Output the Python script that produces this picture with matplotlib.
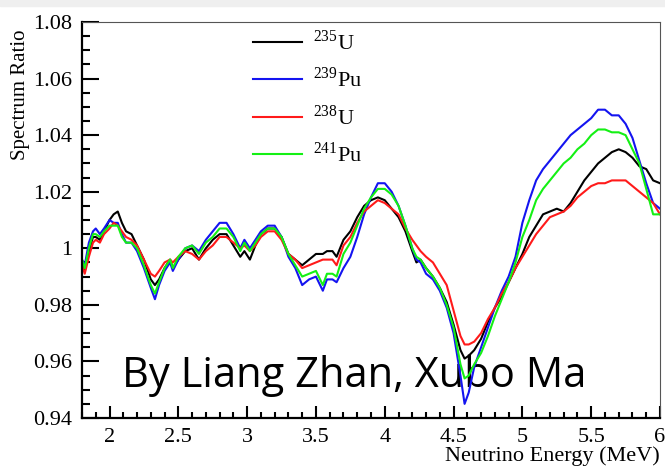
import numpy as np
import matplotlib.pyplot as plt
from matplotlib.patches import Rectangle
from matplotlib.ticker import MultipleLocator

plt.rcParams['font.family'] = ['Liberation Serif', 'DejaVu Serif']
plt.rcParams['mathtext.fontset'] = 'custom'
plt.rcParams['mathtext.rm'] = 'Liberation Serif'

# neutrino energy (MeV)
energy = [1.80, 1.82, 1.85, 1.88, 1.90, 1.93, 1.96, 2.00, 2.03, 2.06, 2.09, 2.12, 2.16, 2.20,
          2.25, 2.30, 2.33, 2.36, 2.40, 2.44, 2.46, 2.50, 2.55, 2.60, 2.65, 2.70, 2.75, 2.80,
          2.85, 2.90, 2.95, 2.98, 3.02, 3.06, 3.10, 3.15, 3.20, 3.25, 3.30, 3.35, 3.40, 3.45,
          3.50, 3.55, 3.58, 3.62, 3.65, 3.70, 3.75, 3.80, 3.85, 3.90, 3.95, 4.00, 4.05, 4.10,
          4.15, 4.20, 4.23, 4.26, 4.30, 4.35, 4.40, 4.45, 4.50, 4.55, 4.58, 4.61, 4.65, 4.70,
          4.75, 4.80, 4.85, 4.90, 4.95, 5.00, 5.05, 5.10, 5.15, 5.20, 5.25, 5.30, 5.35, 5.40,
          5.45, 5.50, 5.55, 5.60, 5.65, 5.70, 5.75, 5.80, 5.85, 5.90, 5.95, 6.00]

u235 = [0.995, 0.992, 0.999, 1.004, 1.004, 1.003, 1.006, 1.010, 1.012, 1.013, 1.009, 1.006, 1.005, 1.001,
        0.996, 0.989, 0.987, 0.989, 0.993, 0.996, 0.993, 0.996, 0.999, 1.000, 0.996, 1.000, 1.003, 1.005,
        1.005, 1.001, 0.997, 0.999, 0.996, 1.001, 1.005, 1.007, 1.007, 1.004, 0.998, 0.996, 0.994, 0.996,
        0.998, 0.998, 0.999, 0.999, 0.997, 1.003, 1.006, 1.011, 1.015, 1.017, 1.018, 1.017, 1.014, 1.011,
        1.006, 0.999, 0.995, 0.996, 0.993, 0.990, 0.986, 0.981, 0.973, 0.964, 0.961, 0.962, 0.964, 0.968,
        0.974, 0.979, 0.983, 0.988, 0.993, 0.998, 1.004, 1.008, 1.012, 1.013, 1.014, 1.013, 1.016, 1.020,
        1.024, 1.027, 1.030, 1.032, 1.034, 1.035, 1.034, 1.032, 1.029, 1.028, 1.024, 1.023]

pu239 = [0.996, 0.994, 1.002, 1.006, 1.007, 1.005, 1.007, 1.010, 1.009, 1.009, 1.005, 1.002, 1.002, 0.999,
         0.993, 0.986, 0.982, 0.987, 0.992, 0.995, 0.992, 0.996, 1.000, 1.001, 0.999, 1.003, 1.006, 1.009,
         1.009, 1.005, 1.000, 1.003, 1.000, 1.003, 1.006, 1.008, 1.008, 1.004, 0.997, 0.993, 0.987, 0.989,
         0.990, 0.985, 0.989, 0.989, 0.988, 0.993, 0.997, 1.004, 1.012, 1.018, 1.023, 1.023, 1.020, 1.015,
         1.008, 1.000, 0.996, 0.995, 0.991, 0.989, 0.985, 0.979, 0.970, 0.955, 0.945, 0.949, 0.958, 0.965,
         0.972, 0.979, 0.985, 0.990, 0.997, 1.009, 1.017, 1.024, 1.028, 1.031, 1.034, 1.037, 1.040, 1.042,
         1.044, 1.046, 1.049, 1.049, 1.047, 1.047, 1.044, 1.039, 1.031, 1.023, 1.016, 1.014]

u238 = [0.994, 0.991, 0.997, 1.002, 1.003, 1.002, 1.005, 1.007, 1.009, 1.008, 1.006, 1.004, 1.003, 1.001,
        0.996, 0.991, 0.990, 0.992, 0.995, 0.996, 0.995, 0.997, 0.999, 0.998, 0.996, 0.999, 1.001, 1.004,
        1.004, 1.002, 1.000, 1.001, 0.999, 1.001, 1.004, 1.006, 1.006, 1.003, 0.998, 0.996, 0.993, 0.994,
        0.995, 0.996, 0.996, 0.996, 0.994, 1.001, 1.004, 1.009, 1.013, 1.015, 1.017, 1.016, 1.014, 1.012,
        1.007, 1.003, 1.001, 0.999, 0.997, 0.995, 0.991, 0.987, 0.978, 0.969, 0.966, 0.966, 0.967, 0.970,
        0.975, 0.979, 0.984, 0.988, 0.993, 0.997, 1.001, 1.005, 1.008, 1.011, 1.012, 1.013, 1.015, 1.018,
        1.020, 1.022, 1.023, 1.023, 1.024, 1.024, 1.024, 1.022, 1.020, 1.018, 1.016, 1.012]

pu241 = [0.996, 0.993, 1.000, 1.005, 1.005, 1.004, 1.006, 1.008, 1.008, 1.008, 1.004, 1.002, 1.002, 1.000,
         0.994, 0.987, 0.984, 0.988, 0.993, 0.996, 0.993, 0.997, 1.000, 1.001, 0.998, 1.002, 1.004, 1.007,
         1.007, 1.004, 0.999, 1.002, 0.999, 1.002, 1.005, 1.007, 1.007, 1.004, 0.998, 0.994, 0.990, 0.991,
         0.992, 0.987, 0.991, 0.991, 0.990, 0.998, 1.002, 1.008, 1.014, 1.018, 1.021, 1.021, 1.019, 1.015,
         1.008, 1.000, 0.997, 0.996, 0.993, 0.990, 0.986, 0.980, 0.972, 0.959, 0.954, 0.955, 0.959, 0.963,
         0.969, 0.976, 0.982, 0.988, 0.995, 1.004, 1.010, 1.017, 1.021, 1.024, 1.027, 1.030, 1.032, 1.035,
         1.037, 1.040, 1.042, 1.042, 1.041, 1.041, 1.040, 1.035, 1.030, 1.021, 1.012, 1.012]

labels = [r'$^{235}$U', r'$^{239}$Pu', r'$^{238}$U', r'$^{241}$Pu']
colors = ['black', '#1414f0', '#ff1a1a', '#14f014']

fig = plt.figure(figsize=(6.65, 4.68), dpi=100)
fig.patches.append(Rectangle((0, 0.987), 1, 0.013, transform=fig.transFigure,
                             color='#efefef', zorder=-1))
ax = fig.add_axes([0.1233, 0.1068, 0.8692, 0.8462])

for ys, lab, c in zip([u235, pu239, u238, pu241], labels, colors):
    ax.plot(energy, ys, color=c, lw=1.5, label=lab, zorder=2)

ax.set_xlim(1.8, 6.0)
ax.set_ylim(0.94, 1.08)
ax.xaxis.set_minor_locator(MultipleLocator(0.1))
ax.yaxis.set_minor_locator(MultipleLocator(0.005))
ax.set_yticks([0.94, 0.96, 0.98, 1.0, 1.02, 1.04, 1.06, 1.08])
ax.set_yticklabels(['0.94', '0.96', '0.98', '1', '1.02', '1.04', '1.06', '1.08'])
ax.set_xticks([2, 2.5, 3, 3.5, 4, 4.5, 5, 5.5, 6])
ax.set_xticklabels(['2', '2.5', '3', '3.5', '4', '4.5', '5', '5.5', '6'])
ax.tick_params(axis='y', which='major', direction='in', length=12, width=1.5, labelsize=16, pad=7)
ax.tick_params(axis='y', which='minor', direction='in', length=6, width=1.5)
ax.tick_params(axis='x', which='major', direction='in', length=9, width=1.5, labelsize=16, pad=7)
ax.tick_params(axis='x', which='minor', direction='in', length=4.5, width=1.5)
for s in ['left', 'bottom']:
    ax.spines[s].set_linewidth(1.6)
for s in ['top', 'right']:
    ax.spines[s].set_linewidth(0.8)
    ax.spines[s].set_color('#555555')

ax.set_ylabel('Spectrum Ratio', fontsize=15, loc='top')
ax.yaxis.set_label_coords(-0.09, 0.98)
ax.set_xlabel('Neutrino Energy (MeV)', fontsize=16, loc='right', labelpad=0)

ax.legend(loc='upper left', bbox_to_anchor=(253 / 665, 438 / 468),
          bbox_transform=fig.transFigure, frameon=False, fontsize=16,
          handlelength=2.2, handletextpad=0.5, labelspacing=0.58,
          borderpad=0, borderaxespad=0)

# watermark sits under the curves
ax.text(122 / 665, 81 / 468, 'By Liang Zhan, Xubo Ma', family='Open Sans',
        fontsize=30, color='black', ha='left', va='baseline',
        transform=fig.transFigure, zorder=1, clip_on=False)

fig.savefig('out.png', dpi=100)
